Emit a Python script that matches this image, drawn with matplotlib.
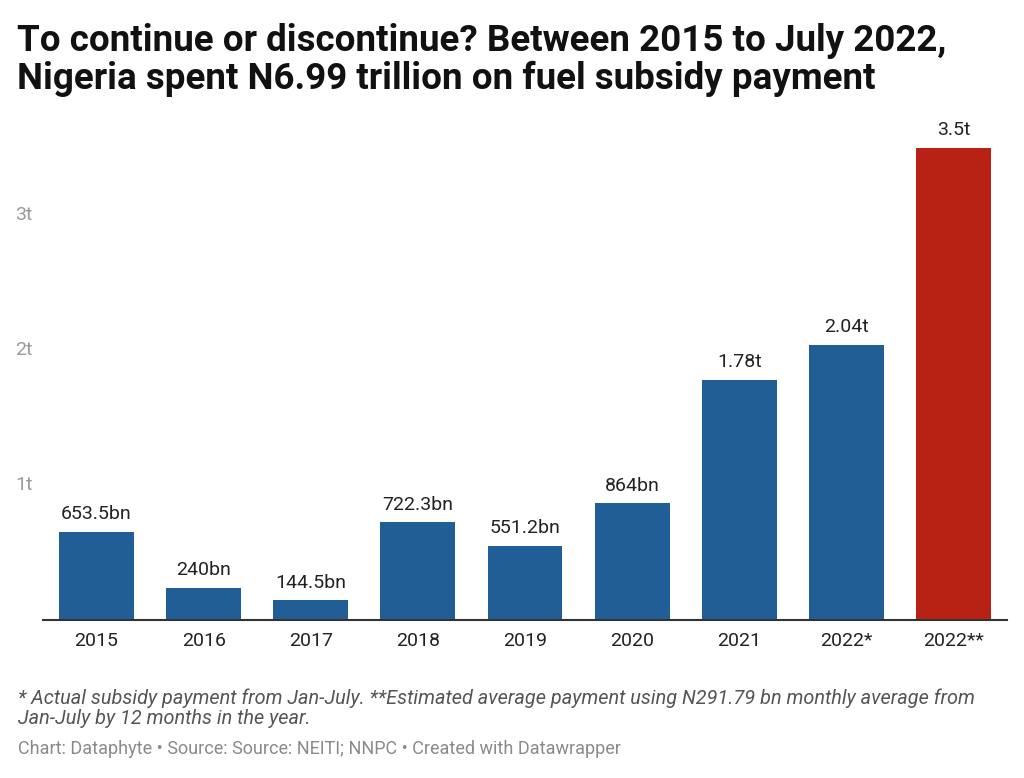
import matplotlib.pyplot as plt

plt.rcParams["font.family"] = ["Roboto", "DejaVu Sans"]

years = ["2015", "2016", "2017", "2018", "2019", "2020", "2021", "2022*", "2022**"]
subsidy_bn = [653.5, 240, 144.5, 722.3, 551.2, 864, 1780, 2040, 3500]
value_labels = ["653.5bn", "240bn", "144.5bn", "722.3bn", "551.2bn", "864bn", "1.78t", "2.04t", "3.5t"]
bar_colors = ["#225e96"] * 8 + ["#b82215"]
ytick_vals = [1, 2, 3]
ytick_labels = ["1t", "2t", "3t"]

W, H = 1024, 778
fig = plt.figure(figsize=(W / 100, H / 100), dpi=100)

# axes placed in pixel coords (from top-left)
left, right, top, bottom = 43, 1007, 134, 620
ax = fig.add_axes([left / W, (H - bottom) / H, (right - left) / W, (bottom - top) / H])

values_t = [v / 1000 for v in subsidy_bn]
x = range(len(years))
ax.bar(x, values_t, width=0.70, color=bar_colors, zorder=2)

for xi, v, lab in zip(x, values_t, value_labels):
    ax.annotate(lab, (xi, v), xytext=(0, 6), textcoords="offset points",
                ha="center", va="bottom", fontsize=14, color="#222222")

ax.set_xlim(-0.5, len(years) - 0.5)
ax.set_ylim(0, 3.6)
ax.set_xticks(list(x))
ax.set_xticklabels(years, fontsize=14, color="#222222")
ax.tick_params(axis="x", length=0, pad=9)
ax.set_yticks([])

for v, lab in zip(ytick_vals, ytick_labels):
    ax.text(-0.5 - 0.26, v, lab, ha="left", va="center", fontsize=14,
            color="#9a9a9a", transform=ax.transData, clip_on=False)

for s in ["top", "right", "left"]:
    ax.spines[s].set_visible(False)
ax.spines["bottom"].set_color("#333333")
ax.spines["bottom"].set_linewidth(1.5)
ax.spines["bottom"].set_zorder(3)

fig.text(17 / W, 1 - 60 / H,
         "To continue or discontinue? Between 2015 to July 2022,\nNigeria spent N6.99 trillion on fuel subsidy payment",
         ha="left", va="center", fontsize=26.5, fontweight="bold", color="#111111",
         linespacing=1.08)

fig.text(18 / W, 1 - 708 / H,
         "* Actual subsidy payment from Jan-July. **Estimated average payment using N291.79 bn monthly average from\nJan-July by 12 months in the year.",
         ha="left", va="center", fontsize=14.3, style="italic", color="#555555",
         linespacing=1.1)

fig.text(18 / W, 1 - 749 / H,
         "Chart: Dataphyte \u2022 Source: Source: NEITI; NNPC \u2022 Created with Datawrapper",
         ha="left", va="center", fontsize=13, color="#8a8a8a")

fig.savefig("out.png", dpi=100, facecolor="white")
